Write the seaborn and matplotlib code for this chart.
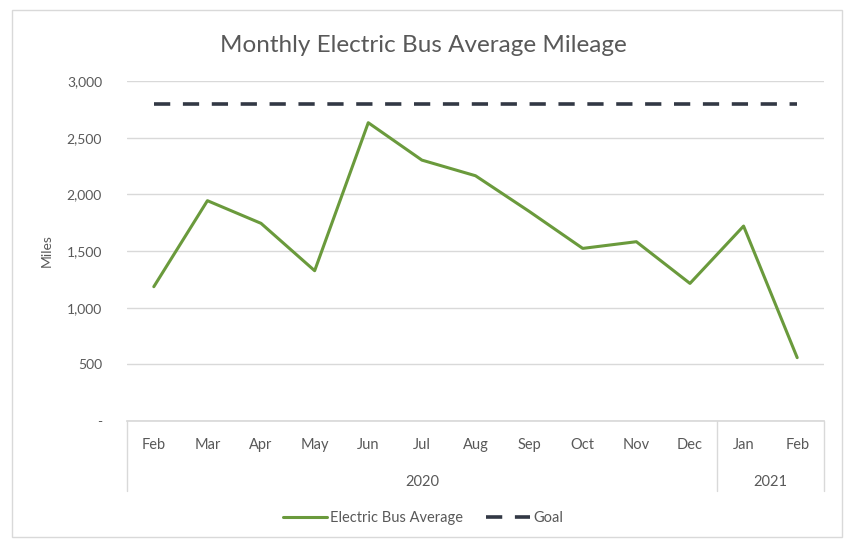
import matplotlib
matplotlib.use("Agg")
import matplotlib.pyplot as plt
from matplotlib.patches import Rectangle
from matplotlib.ticker import FuncFormatter
import pandas as pd
import seaborn as sns

# Data
months = ["Feb", "Mar", "Apr", "May", "Jun", "Jul", "Aug", "Sep", "Oct", "Nov", "Dec", "Jan", "Feb"]
years = ["2020"] * 11 + ["2021"] * 2
bus_average = [1185, 1944, 1744, 1326, 2632, 2302, 2164, 1850, 1523, 1582, 1214, 1720, 559]
goal = [2800] * 13
y_ticks = [0, 500, 1000, 1500, 2000, 2500, 3000]

df = pd.DataFrame({
    "pos": list(range(len(months))),
    "Electric Bus Average": bus_average,
    "Goal": goal,
})

sns.set_theme(style="white")
plt.rcParams["font.family"] = ["Lato", "DejaVu Sans"]

W, H = 846, 540
fig = plt.figure(figsize=(W / 100, H / 100), dpi=100)
ax = fig.add_axes([127 / W, 1 - 421 / H, (824 - 127) / W, (421 - 81) / H])

green = "#6A9A3C"
dark = "#323844"
grid_c = "#d9d9d9"
text_c = "#595959"

sns.lineplot(data=df, x="pos", y="Electric Bus Average", ax=ax, color=green,
             linewidth=2.2, label="Electric Bus Average")
sns.lineplot(data=df, x="pos", y="Goal", ax=ax, color=dark, linewidth=2.6,
             dashes=False, label="Goal")
ax.lines[1].set_dashes([4.5, 3.5])

ax.set_xlim(-0.5, len(months) - 0.5)
ax.set_ylim(0, 3000)
ax.set_yticks(y_ticks)
ax.yaxis.set_major_formatter(FuncFormatter(lambda v, p: "-" if v == 0 else f"{int(v):,}"))
ax.yaxis.grid(True, color=grid_c, linewidth=1.0)
ax.set_axisbelow(True)
for s in ["top", "right", "left"]:
    ax.spines[s].set_visible(False)
ax.spines["bottom"].set_color(grid_c)
ax.tick_params(axis="y", length=0, labelsize=10, labelcolor=text_c, pad=18)
ax.set_xticks([])
ax.set_xlabel("")
ax.set_ylabel("Miles", fontsize=10, color=text_c, labelpad=10)

# Two-level category axis
trans = ax.get_xaxis_transform()
for i, m in enumerate(months):
    ax.text(i, -0.07, m, transform=trans, ha="center", va="center",
            fontsize=10.5, color=text_c)
year_groups = {}
for i, y in enumerate(years):
    year_groups.setdefault(y, []).append(i)
for y, idx in year_groups.items():
    ax.text((idx[0] + idx[-1]) / 2, -0.178, y, transform=trans, ha="center",
            va="center", fontsize=10.5, color=text_c)
for xb in [-0.5, 10.5, len(months) - 0.5]:
    ax.plot([xb, xb], [0, -0.205], transform=trans, color=grid_c,
            linewidth=1.0, clip_on=False)

ax.get_legend().remove()
handles, labels = ax.get_legend_handles_labels()
leg = fig.legend(handles, labels, loc="center", bbox_to_anchor=(0.5, 1 - 518 / H),
                 ncol=2, frameon=False, fontsize=10.5, handlelength=3.0,
                 columnspacing=1.6, handletextpad=0.2)
for t in leg.get_texts():
    t.set_color(text_c)

fig.text(0.5, 1 - 45 / H, "Monthly Electric Bus Average Mileage", ha="center",
         va="center", fontsize=17.5, color="#595959")

fig.patches.append(Rectangle((12 / W, 1 - 537 / H), (842 - 12) / W, (537 - 10) / H,
                             transform=fig.transFigure, fill=False,
                             edgecolor=grid_c, linewidth=1.0))

fig.savefig("out.png", dpi=100, facecolor="white")
